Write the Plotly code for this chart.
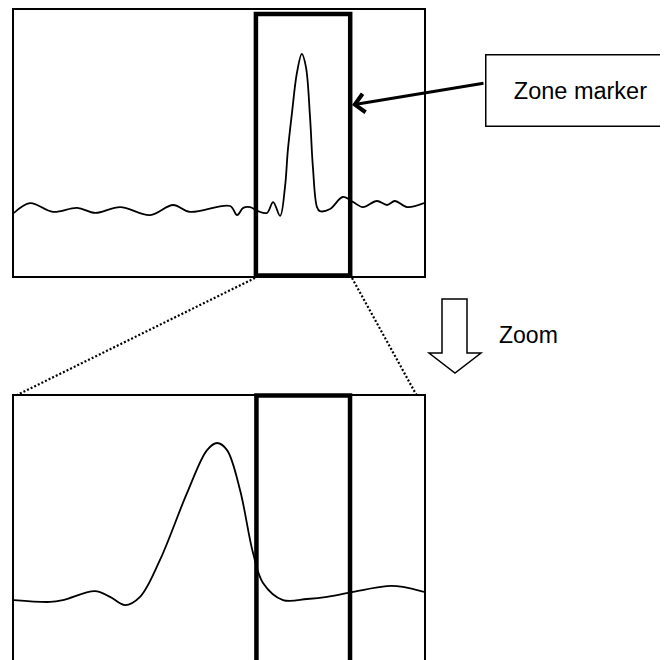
"""Zoom-window illustration: full trace on top, zoomed window below."""
import plotly.graph_objects as go

# full trace (top panel), x in arbitrary time units 0..100, y in 0..10
top_x = [0, 3.9, 9.5, 15.4, 19.8, 25.9, 33.2, 38.8, 42.9, 52.7, 54.4, 55.9,
         57.6, 59.5, 61.7, 63.2, 64.9, 66.1, 66.8, 67.8, 69.0, 70.2, 71.2,
         72.2, 72.9, 73.9, 74.6, 77.1, 80.2, 82.7, 85.1, 88.5, 91.0, 92.9,
         95.9, 100]
top_y = [2.37, 2.74, 2.41, 2.56, 2.37, 2.59, 2.29, 2.67, 2.41, 2.63, 2.29,
         2.56, 2.59, 2.44, 2.37, 2.78, 2.26, 3.35, 4.74, 6.13, 7.63, 8.35,
         7.86, 5.98, 4.10, 2.59, 2.44, 2.52, 2.97, 2.78, 2.59, 2.82, 2.67,
         2.82, 2.59, 2.74]

# zoomed window (bottom panel)
zoom_x = [59.0, 61.02, 61.75, 63.54, 64.39, 65.23, 66.07, 67.19, 68.71,
          69.83, 70.39, 70.95, 71.68, 72.41, 72.97, 74.09, 75.44, 76.56,
          78.02, 79.92, 80.82, 82.0]
zoom_y = [2.27, 2.20, 2.27, 2.61, 2.39, 2.08, 2.39, 3.79, 6.33, 7.95, 8.22,
          7.95, 6.44, 4.05, 2.92, 2.27, 2.31, 2.39, 2.58, 2.80, 2.77, 2.58]

ZOOM_WINDOW = [59.0, 82.0]     # region of the top trace shown below
MARKER_WINDOW = [72.6, 77.85]  # zone marker inside the zoomed view

W, H = 668, 660
PAGE_MARGIN = 8  # the html body margin shifts the figure on the page
FONT = "Liberation Sans, Arial, sans-serif"


def px(x):
    # page pixel -> paper fraction
    return (x - PAGE_MARGIN) / W


def py(y):
    return 1 - (y - PAGE_MARGIN) / H


fig = go.Figure()
fig.add_trace(go.Scatter(x=top_x, y=top_y, mode="lines",
                         line=dict(color="black", width=1.8, shape="spline"),
                         xaxis="x", yaxis="y", hoverinfo="skip"))
fig.add_trace(go.Scatter(x=zoom_x, y=zoom_y, mode="lines",
                         line=dict(color="black", width=1.8, shape="spline"),
                         xaxis="x2", yaxis="y2", hoverinfo="skip"))

ax_common = dict(showgrid=False, zeroline=False, showticklabels=False,
                 ticks="", showline=True, linecolor="black", linewidth=1.6)
fig.update_layout(
    width=W, height=H,
    margin=dict(l=0, r=0, t=0, b=0),
    paper_bgcolor="white", plot_bgcolor="white",
    showlegend=False,
    font=dict(family=FONT, color="black"),
    xaxis=dict(domain=[px(14), px(424)], range=[0, 100], mirror=True,
               anchor="y", **ax_common),
    yaxis=dict(domain=[py(276), py(10)], range=[0, 10], mirror=True,
               anchor="x", **ax_common),
    xaxis2=dict(domain=[px(14), px(424)], range=ZOOM_WINDOW, side="top",
                mirror=False, anchor="y2", **ax_common),
    # panel continues below the visible page
    yaxis2=dict(domain=[0, py(396)], range=[-0.303, 10], mirror=True,
                anchor="x2", **ax_common),
)

thick = dict(color="black", width=4.5)
dotted = dict(color="black", width=2.2, dash="2px,2px")
fig.add_shape(type="rect", xref="x", yref="y domain",
              x0=ZOOM_WINDOW[0], x1=ZOOM_WINDOW[1], y0=0.002, y1=0.985, line=thick)
fig.add_shape(type="rect", xref="x2", yref="y2 domain",
              x0=MARKER_WINDOW[0], x1=MARKER_WINDOW[1], y0=-0.2, y1=1.002, line=thick)
fig.add_shape(type="line", xref="paper", yref="paper",
              x0=px(255), y0=py(278), x1=px(15), y1=py(396), line=dotted)
fig.add_shape(type="line", xref="paper", yref="paper",
              x0=px(352), y0=py(278), x1=px(417), y1=py(396), line=dotted)

# hollow "zoom" arrow
pts = [(442, 299), (467, 299), (467, 353), (481, 353), (455, 373),
       (429, 353), (442, 353)]
path = "M" + " L".join(f"{px(a):.5f},{py(b):.5f}" for a, b in pts) + " Z"
fig.add_shape(type="path", xref="paper", yref="paper", path=path,
              line=dict(color="black", width=1.5), fillcolor="white")

# arrow to the zone marker
fig.add_annotation(x=px(352), y=py(105), xref="paper", yref="paper",
                   text="", showarrow=True, ax=133, ay=-22,
                   arrowhead=4, arrowsize=1.2, arrowwidth=3, arrowcolor="black")
fig.add_annotation(x=px(485), y=py(91), xref="paper", yref="paper",
                   xanchor="left", yanchor="middle", text="Zone marker",
                   showarrow=False, width=188, height=70, align="center",
                   bordercolor="black", borderwidth=1.5, borderpad=0,
                   bgcolor="white", font=dict(size=23.5, family=FONT))
fig.add_annotation(x=px(497), y=py(335), xref="paper", yref="paper",
                   xanchor="left", yanchor="middle", text="Zoom",
                   showarrow=False, font=dict(size=23, family=FONT))

fig.write_html("out.html")
